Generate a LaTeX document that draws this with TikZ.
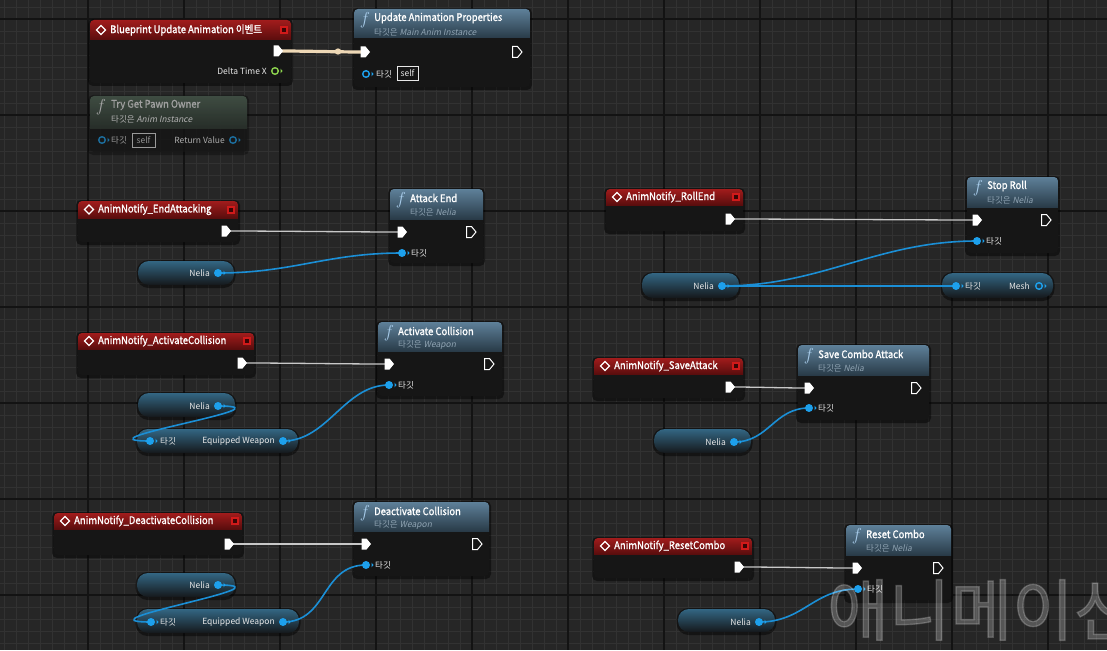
\documentclass[tikz,border=0pt]{standalone}
\usepackage{fontspec}
\setmainfont{Noto Sans CJK KR}[AutoFakeSlant=0.2]
\newfontfamily\ttlfont{Noto Sans CJK KR}[FakeStretch=0.9,FakeBold=1.3]
\newfontfamily\wmfont{Noto Sans CJK KR}[FakeBold=2]
\definecolor{bgc}{HTML}{262626}
\definecolor{gridminor}{HTML}{323232}
\definecolor{gridmajor}{HTML}{131313}
\definecolor{nodebody}{HTML}{161616}
\definecolor{evtop}{HTML}{A11C1C}
\definecolor{evbot}{HTML}{5A0D0D}
\definecolor{fntop}{HTML}{5E8099}
\definecolor{fnbot}{HTML}{293B48}
\definecolor{dgtop}{HTML}{46564A}
\definecolor{dgbot}{HTML}{2A322C}
\definecolor{vtop}{HTML}{336683}
\definecolor{vmid}{HTML}{1D2A33}
\definecolor{vbot}{HTML}{15181B}
\definecolor{pinblue}{HTML}{1DA0EC}
\definecolor{wireblue}{HTML}{1B8FD6}
\definecolor{dimblue}{HTML}{1C6E9E}
\definecolor{pingreen}{HTML}{8CD24E}
\definecolor{sqred}{HTML}{D01A1A}
\definecolor{sqdark}{HTML}{3A0505}
\definecolor{subtxt}{HTML}{8FA3B2}
\definecolor{lbltxt}{HTML}{E8E8E8}
\definecolor{beige}{HTML}{EED8B6}
\definecolor{fnicon}{HTML}{A8CCEA}
\definecolor{execgray}{HTML}{C8C8C8}
\tikzset{
  evtitle/.style={inner sep=0,text=white,font=\ttlfont\fontsize{10.5}{12}\selectfont},
  fntitle/.style={inner sep=0,text=white,font=\ttlfont\fontsize{10.5}{12}\selectfont},
  fnsub/.style={inner sep=0,text=subtxt,font=\fontsize{8.5}{10}\selectfont},
  fnic/.style={inner sep=0,text=fnicon,font=\fontsize{16}{16}\selectfont},
  pinlbl/.style={inner sep=0,text=lbltxt,font=\fontsize{8.5}{10}\selectfont},
  selfbox/.style={draw=lbltxt,line width=0.8,inner sep=1.5pt,minimum width=21,minimum height=14,text=lbltxt,font=\fontsize{8.5}{10}\selectfont},
  execwire/.style={draw=execgray,line width=1.3},
  datawire/.style={draw=wireblue,line width=1.6},
  shadowbox/.style={fill=black,opacity=0.45},
}
\newcommand\bpEvent[7]{%
  \fill[shadowbox,rounded corners=5] ({#2-2},{#3-1}) rectangle ({#4+2},{#5+3});
  \fill[nodebody,rounded corners=4] (#2,#3) rectangle (#4,#5);
  \begin{scope}
    \clip[rounded corners=4] (#2,#3) rectangle (#4,#5);
    \shade[top color=evtop,bottom color=evbot] (#2,#3) rectangle (#4,#6);
  \end{scope}
  \node[evtitle,anchor=west] (#1) at ({#2+20},{(#3+#6)/2}) {#7};
  \draw[white,line width=1.2] ({#2+6.5},{(#3+#6)/2}) -- ++(4.5,-4.5) -- ++(4.5,4.5) -- ++(-4.5,4.5) -- cycle;
  \fill[sqred] ({#4-11},{(#3+#6)/2-4}) rectangle ++(8,8);
  \fill[sqdark] ({#4-9},{(#3+#6)/2-2}) rectangle ++(4,4);
}
\newcommand\bpFunc[8]{%
  \fill[shadowbox,rounded corners=5] ({#2-2},{#3-1}) rectangle ({#4+2},{#5+3});
  \fill[nodebody,rounded corners=4] (#2,#3) rectangle (#4,#5);
  \begin{scope}
    \clip[rounded corners=4] (#2,#3) rectangle (#4,#5);
    \shade[top color=fntop,bottom color=fnbot] (#2,#3) rectangle (#4,#6);
  \end{scope}
  \node[fnic] (#1-f) at ({#2+11},{#3+11}) {$f$};
  \node[fntitle,anchor=west] (#1) at ({#2+20},{#3+9}) {#7};
  \node[fnsub,anchor=west] (#1-s) at ({#2+20},{#3+23}) {타깃은 \textit{#8}};
}
\newcommand\bpPill[5]{%
  \fill[shadowbox,rounded corners=12] ({#2-1.5},{#3-1}) rectangle ({#4+1.5},{#5+3});
  \shade[top color=vtop,middle color=vmid,bottom color=vbot,rounded corners=11] (#2,#3) rectangle (#4,#5);
  \coordinate (#1) at (#2,#3);
}
\newcommand\bpExec[2]{%
  \path[#2,shift={(#1)}] (-4.5,-5.5) -- (0.5,-5.5) -- (5,0) -- (0.5,5.5) -- (-4.5,5.5) -- cycle;}
\newcommand\bpPinF[2]{%
  \fill[#2,shift={(#1)}] (0,0) circle (4);
  \fill[#2,shift={(#1)}] (5.5,-2.3) -- (7.6,0) -- (5.5,2.3) -- cycle;}
\newcommand\bpPinH[2]{%
  \draw[#2,line width=1.4,shift={(#1)}] (0,0) circle (3.3);
  \fill[#2,shift={(#1)}] (5.5,-2.3) -- (7.6,0) -- (5.5,2.3) -- cycle;}
\begin{document}
\begin{tikzpicture}[x=1pt,y=-1pt]
\useasboundingbox (0,0) rectangle (1107,650);
% background and grid
\fill[bgc] (0,0) rectangle (1107,650);
\foreach \gx in {4,16,...,1107} \draw[gridminor,line width=0.9] (\gx,0) -- (\gx,650);
\foreach \gy in {7,19,...,650} \draw[gridminor,line width=0.9] (0,\gy) -- (1107,\gy);
\foreach \gx in {88,184,...,1107} \draw[gridmajor,line width=1.3] (\gx,0) -- (\gx,650);
\foreach \gy in {19,115,...,650} \draw[gridmajor,line width=1.3] (0,\gy) -- (1107,\gy);

% ---------- nodes ----------
\bpEvent{e0}{90}{20}{291}{83}{40}{Blueprint Update Animation 이벤트}
\node[pinlbl,anchor=east] (e0-dt) at (267,71) {Delta Time X};
\bpFunc{f0}{354}{9}{530}{87}{38}{Update Animation Properties}{Main Anim Instance}
\node[pinlbl,anchor=west] (f0-tl) at (376,74) {타깃};
\node[selfbox] (f0-self) at (407.5,73.5) {self};

% Try Get Pawn Owner (disabled)
\fill[shadowbox,opacity=0.3,rounded corners=5] (88,95) rectangle (249,155);
\fill[nodebody,opacity=0.75,rounded corners=4] (90,96) rectangle (247,152);
\begin{scope}
  \clip[rounded corners=4] (90,96) rectangle (247,152);
  \shade[top color=dgtop,bottom color=dgbot,opacity=0.85] (90,96) rectangle (247,128);
\end{scope}
\node[fnic,text=gray!70] (tg-f) at (101,107) {$f$};
\node[fntitle,anchor=west,text=gray!75] (tg) at (111,105) {Try Get Pawn Owner};
\node[fnsub,anchor=west,text=gray!60] (tg-s) at (111,119) {타깃은 \textit{Anim Instance}};
\node[pinlbl,anchor=west,text=gray!80] (tg-tl) at (111,140) {타깃};
\node[selfbox,draw=gray!80,text=gray!85,minimum width=23] (tg-self) at (143.5,140) {self};
\node[pinlbl,anchor=east,text=gray!65] (tg-rl) at (225,140) {Return Value};

% EndAttacking
\bpEvent{e1}{78}{201}{238}{242}{218}{AnimNotify\_EndAttacking}
\bpFunc{f1}{390}{189}{483}{263}{219}{Attack End}{Nelia}
\node[pinlbl,anchor=west] (f1-tl) at (411,253) {타깃};
\bpPill{v1}{138}{261}{234}{285}
\node[pinlbl,anchor=east] (v1-l) at (210,273) {Nelia};

% ActivateCollision
\bpEvent{e2}{78}{333}{254}{375}{349}{AnimNotify\_ActivateCollision}
\bpFunc{f2}{378}{322}{502}{396}{351}{Activate Collision}{Weapon}
\node[pinlbl,anchor=west] (f2-tl) at (398,385) {타깃};
\bpPill{v2}{138}{393}{235}{417}
\node[pinlbl,anchor=east] (v2-l) at (210,406) {Nelia};
\bpPill{g2}{137}{429}{298}{453}
\node[pinlbl,anchor=west] (g2-tl) at (160,441) {타깃};
\node[pinlbl,anchor=east] (g2-ol) at (275,441) {Equipped Weapon};

% DeactivateCollision
\bpEvent{e3}{54}{513}{242}{555}{529}{AnimNotify\_DeactivateCollision}
\bpFunc{f3}{354}{502}{489}{576}{531}{Deactivate Collision}{Weapon}
\node[pinlbl,anchor=west] (f3-tl) at (375,565) {타깃};
\bpPill{v3}{137}{573}{235}{597}
\node[pinlbl,anchor=east] (v3-l) at (210,585) {Nelia};
\bpPill{g3}{137}{609}{299}{633}
\node[pinlbl,anchor=west] (g3-tl) at (160,622) {타깃};
\node[pinlbl,anchor=east] (g3-ol) at (275,622) {Equipped Weapon};

% RollEnd
\bpEvent{e4}{606}{189}{743}{231}{205}{AnimNotify\_RollEnd}
\bpFunc{f4}{967}{177}{1058}{253}{207}{Stop Roll}{Nelia}
\node[pinlbl,anchor=west] (f4-tl) at (986,241) {타깃};
\bpPill{v4}{642}{273}{739}{298}
\node[pinlbl,anchor=east] (v4-l) at (714,286) {Nelia};
\bpPill{gm}{942}{273}{1053}{298}
\node[pinlbl,anchor=west] (gm-tl) at (965,286) {타깃};
\node[pinlbl,anchor=east] (gm-ol) at (1030,286) {Mesh};

% SaveAttack
\bpEvent{e5}{594}{358}{743}{398}{374}{AnimNotify\_SaveAttack}
\bpFunc{f5}{798}{345}{929}{420}{375}{Save Combo Attack}{Nelia}
\node[pinlbl,anchor=west] (f5-tl) at (818,408) {타깃};
\bpPill{v5}{654}{429}{751}{453}
\node[pinlbl,anchor=east] (v5-l) at (726,442) {Nelia};

% ResetCombo
\bpEvent{e6}{594}{538}{752}{578}{554}{AnimNotify\_ResetCombo}
\bpFunc{f6}{846}{525}{951}{600}{555}{Reset Combo}{Nelia}
\node[pinlbl,anchor=west] (f6-tl) at (867,589) {타깃};
\bpPill{v6}{678}{609}{775}{632}
\node[pinlbl,anchor=east] (v6-l) at (751,622) {Nelia};

% ---------- pin positions ----------
\coordinate (e0o) at (278,51);  \coordinate (e0dt) at (275,71);
\coordinate (f0i) at (365,52);  \coordinate (f0o) at (517,52);  \coordinate (f0t) at (366,74);
\coordinate (tgt) at (102,140); \coordinate (tgr) at (233,140);
\coordinate (e1o) at (226,231); \coordinate (f1i) at (402,232); \coordinate (f1o) at (471,232); \coordinate (f1t) at (402,253);
\coordinate (v1p) at (218,273);
\coordinate (e2o) at (242,363); \coordinate (f2i) at (389,364); \coordinate (f2o) at (489,364); \coordinate (f2t) at (389,385);
\coordinate (v2p) at (218,406); \coordinate (g2t) at (150,441); \coordinate (g2o) at (283,441);
\coordinate (e3o) at (229,544); \coordinate (f3i) at (366,544); \coordinate (f3o) at (477,544); \coordinate (f3t) at (366,565);
\coordinate (v3p) at (218,585); \coordinate (g3t) at (151,622); \coordinate (g3o) at (283,622);
\coordinate (e4o) at (730,219); \coordinate (f4i) at (977,220); \coordinate (f4o) at (1046,220); \coordinate (f4t) at (977,241);
\coordinate (v4p) at (722,286); \coordinate (gmt) at (956,286); \coordinate (gmo) at (1039,286);
\coordinate (e5o) at (730,387); \coordinate (f5i) at (809,388); \coordinate (f5o) at (916,388); \coordinate (f5t) at (809,408);
\coordinate (v5p) at (734,442);
\coordinate (e6o) at (739,567); \coordinate (f6i) at (857,568); \coordinate (f6o) at (938,568); \coordinate (f6t) at (858,589);
\coordinate (v6p) at (759,622);
\coordinate (knot) at (338,51.5);

% ---------- wires ----------
\draw[beige,line width=3.2] (e0o) .. controls +(30,0) and +(-30,0) .. (f0i);
\fill[beige] (knot) circle (3.2);
\draw[execwire] (e1o) .. controls +(50,0) and +(-50,0) .. (f1i);
\draw[execwire] (e2o) .. controls +(50,0) and +(-50,0) .. (f2i);
\draw[execwire] (e3o) .. controls +(50,0) and +(-50,0) .. (f3i);
\draw[execwire] (e4o) .. controls +(50,0) and +(-50,0) .. (f4i);
\draw[execwire] (e5o) .. controls +(30,0) and +(-30,0) .. (f5i);
\draw[execwire] (e6o) .. controls +(40,0) and +(-40,0) .. (f6i);
\draw[datawire] (v1p) .. controls +(75,0) and +(-75,0) .. (f1t);
\draw[datawire] (v2p) .. controls +(80,0) and +(-80,0) .. (g2t);
\draw[datawire] (g2o) .. controls +(45,0) and +(-45,0) .. (f2t);
\draw[datawire] (v3p) .. controls +(80,0) and +(-80,0) .. (g3t);
\draw[datawire] (g3o) .. controls +(45,0) and +(-45,0) .. (f3t);
\draw[datawire] (v4p) .. controls +(100,0) and +(-100,0) .. (f4t);
\draw[datawire] (v4p) -- (gmt);
\draw[datawire] (v5p) .. controls +(35,0) and +(-35,0) .. (f5t);
\draw[datawire] (v6p) .. controls +(45,0) and +(-45,0) .. (f6t);

% ---------- pins ----------
\bpExec{e0o}{fill=white} \bpPinH{e0dt}{pingreen}
\bpExec{f0i}{fill=white} \bpExec{f0o}{draw=white,line width=1} \bpPinH{f0t}{pinblue}
\bpPinH{tgt}{dimblue} \bpPinH{tgr}{dimblue}
\bpExec{e1o}{fill=white} \bpExec{f1i}{fill=white} \bpExec{f1o}{draw=white,line width=1} \bpPinF{f1t}{pinblue} \bpPinF{v1p}{pinblue}
\bpExec{e2o}{fill=white} \bpExec{f2i}{fill=white} \bpExec{f2o}{draw=white,line width=1} \bpPinF{f2t}{pinblue} \bpPinF{v2p}{pinblue} \bpPinF{g2t}{pinblue} \bpPinF{g2o}{pinblue}
\bpExec{e3o}{fill=white} \bpExec{f3i}{fill=white} \bpExec{f3o}{draw=white,line width=1} \bpPinF{f3t}{pinblue} \bpPinF{v3p}{pinblue} \bpPinF{g3t}{pinblue} \bpPinF{g3o}{pinblue}
\bpExec{e4o}{fill=white} \bpExec{f4i}{fill=white} \bpExec{f4o}{draw=white,line width=1} \bpPinF{f4t}{pinblue} \bpPinF{v4p}{pinblue} \bpPinF{gmt}{pinblue} \bpPinH{gmo}{pinblue}
\bpExec{e5o}{fill=white} \bpExec{f5i}{fill=white} \bpExec{f5o}{draw=white,line width=1} \bpPinF{f5t}{pinblue} \bpPinF{v5p}{pinblue}
\bpExec{e6o}{fill=white} \bpExec{f6i}{fill=white} \bpExec{f6o}{draw=white,line width=1} \bpPinF{f6t}{pinblue} \bpPinF{v6p}{pinblue}

% ---------- watermark ----------
\node[anchor=west,inner sep=0,text=white,text opacity=0.22,font=\wmfont\fontsize{67}{67}\selectfont] (wm) at (827,610) {애니메이션};
\end{tikzpicture}
\end{document}
